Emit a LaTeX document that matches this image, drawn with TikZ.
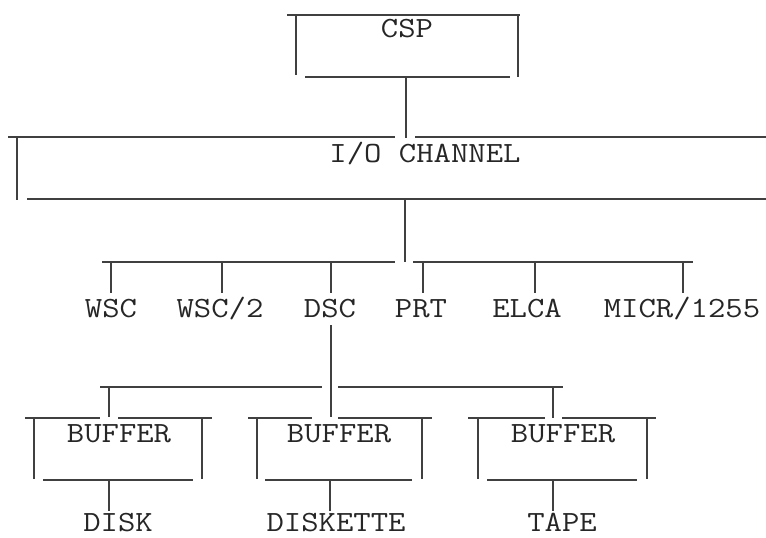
\documentclass[tikz,border=0pt]{standalone}
\usepackage{fontspec}
\begin{document}
\begin{tikzpicture}[x=0.75pt,y=-0.75pt,
  ln/.style={draw=black!75, line width=1.3pt},
  lbl/.style={anchor=base, inner sep=0pt, xscale=1.15, transform shape, font=\ttfamily\fontsize{22}{22}\selectfont, text=black!85}]
\useasboundingbox (0,0) rectangle (766,537);
% CSP box
\draw[ln] (287,15) -- (520,15);
\draw[ln] (296,15) -- (296,75);
\draw[ln] (518,15) -- (518,77);
\draw[ln] (305,77) -- (510,77);
\node[lbl] (csp) at (407,37) {CSP};
\coordinate (cspb) at (406,77);
\coordinate (chtop) at (406,138);
\draw[ln] (cspb) -- (chtop);
% I/O channel
\draw[ln] (8,137) -- (395,137);
\draw[ln] (415,137) -- (766,137);
\draw[ln] (17,137) -- (17,200);
\draw[ln] (27,199) -- (766,199);
\node[lbl] (ch) at (425,162) {I/O CHANNEL};
\coordinate (chb) at (405,199);
\coordinate (bus1) at (405,262);
\draw[ln] (chb) -- (bus1);
% middle bus
\draw[ln] (102,262) -- (395,262);
\draw[ln] (413,262) -- (693,262);
\node[lbl] (wsc) at (111,317) {WSC};
\node[lbl] (wsc2) at (220,317) {WSC/2};
\node[lbl] (dsc) at (330,317) {DSC};
\node[lbl] (prt) at (421,317) {PRT};
\node[lbl] (elca) at (527,317) {ELCA};
\node[lbl] (micr) at (682,317) {MICR/1255};
\draw[ln] (111,262) -- (111,293);
\draw[ln] (222,262) -- (222,293);
\draw[ln] (331,262) -- (331,293);
\draw[ln] (423,262) -- (423,293);
\draw[ln] (535,262) -- (535,293);
\draw[ln] (683,262) -- (683,293);
% DSC down
\coordinate (dscb) at (331,325);
\coordinate (buf2t) at (331,417);
\draw[ln] (dscb) -- (buf2t);
% bottom bus
\draw[ln] (100,387) -- (322,387);
\draw[ln] (338,387) -- (563,387);
\draw[ln] (109,387) -- (109,417);
\draw[ln] (553,387) -- (553,418);
% Buffer 1
\draw[ln] (25,418) -- (100,418);
\draw[ln] (118,418) -- (212,418);
\draw[ln] (34,418) -- (34,479);
\draw[ln] (202,418) -- (202,479);
\draw[ln] (43,480) -- (193,480);
\draw[ln] (109,480) -- (109,511);
\node[lbl] (b1) at (119,442) {BUFFER};
\node[lbl] (disk) at (118,531) {DISK};
% Buffer 2
\draw[ln] (248,418) -- (312,418);
\draw[ln] (338,418) -- (432,418);
\draw[ln] (257,418) -- (257,479);
\draw[ln] (422,418) -- (422,479);
\draw[ln] (265,480) -- (412,480);
\draw[ln] (330,480) -- (330,511);
\node[lbl] (b2) at (339,442) {BUFFER};
\node[lbl] (diskette) at (336,531) {DISKETTE};
% Buffer 3
\draw[ln] (468,418) -- (545,418);
\draw[ln] (562,418) -- (656,418);
\draw[ln] (478,418) -- (478,479);
\draw[ln] (647,418) -- (647,479);
\draw[ln] (487,480) -- (637,480);
\draw[ln] (553,480) -- (553,511);
\node[lbl] (b3) at (563,442) {BUFFER};
\node[lbl] (tape) at (562,531) {TAPE};
\end{tikzpicture}
\end{document}
